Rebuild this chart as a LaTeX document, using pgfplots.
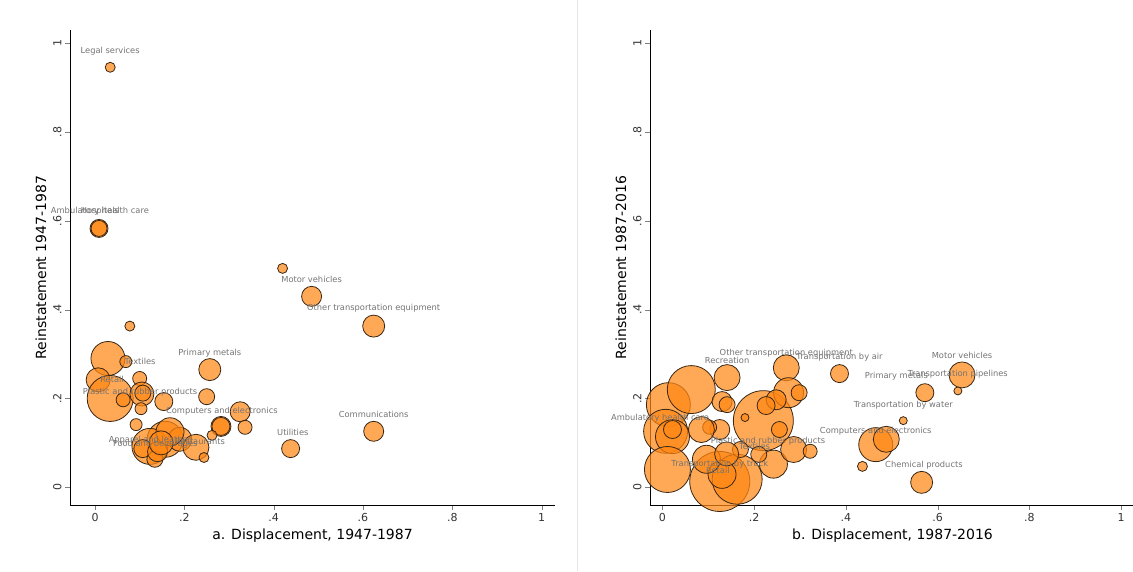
\documentclass[border=0pt]{standalone}
\usepackage{pgfplots}
\pgfplotsset{compat=1.18}
\usepackage{fontspec}
\setmainfont{DejaVu Sans}
\definecolor{bub}{RGB}{255,135,20}
\definecolor{lab}{RGB}{115,115,115}
\tikzset{lb/.style={font=\fontsize{8.3}{9}\selectfont, text=lab, inner sep=0pt}}
\pgfplotsset{
 myax/.style={scale only axis, width=485pt, height=475pt,
  xmin=-0.056, xmax=1.03, ymin=-0.04, ymax=1.03,
  axis x line*=bottom, axis y line*=left,
  xtick={0,0.2,0.4,0.6,0.8,1}, xticklabels={0,.2,.4,.6,.8,1},
  ytick={0,0.2,0.4,0.6,0.8,1}, yticklabels={0,.2,.4,.6,.8,1},
  yticklabel style={rotate=90, anchor=south},
  tick label style={font=\fontsize{11}{12}\selectfont, text=black!80},
  label style={font=\fontsize{14}{16}\selectfont},
  /pgf/number format/assume math mode=true,
  tick align=outside, major tick length=5pt,
  clip=false},
 bub/.style={scatter, only marks, mark=*,
  scatter/use mapped color={draw=black!70!brown, fill=bub, fill opacity=0.72, line width=0.8pt},
  visualization depends on={\thisrow{r} \as \rr},
  scatter/@pre marker code/.append style={/tikz/mark size=\rr}},
 labs/.style={only marks, mark=none, point meta=explicit symbolic,
  nodes near coords, nodes near coords align=center,
  every node near coord/.append style={lb, anchor=center}}
}
\begin{document}
\begin{tikzpicture}
\useasboundingbox (0,0) rectangle (1133pt,571pt);
\draw[black!10] (577pt,0) -- (577pt,571pt);
\begin{axis}[myax, at={(70pt,66pt)}, anchor=south west, xlabel={a. Displacement, 1947-1987}, ylabel={Reinstatement 1947-1987}]
\addplot[bub] table {
x y r
0.034 0.946 5
0.009 0.583 9
0.009 0.583 8
0.420 0.493 5
0.485 0.430 10
0.624 0.363 11
0.078 0.363 5
0.029 0.290 17
0.069 0.283 6
0.257 0.265 11
0.007 0.242 12
0.100 0.245 7
0.034 0.200 23
0.250 0.204 8
0.063 0.197 7
0.105 0.210 12
0.107 0.212 8
0.154 0.193 9
0.325 0.170 10
0.103 0.177 6
0.092 0.141 6
0.624 0.126 10
0.282 0.137 10
0.282 0.137 9
0.336 0.135 7
0.262 0.117 5
0.438 0.087 9
0.157 0.108 18
0.190 0.108 12
0.123 0.092 18
0.107 0.087 9
0.226 0.090 13
0.134 0.063 8
0.140 0.080 10
0.244 0.067 5
0.168 0.125 14
0.148 0.100 12
};
\addplot[labs] table[col sep=comma, meta=t] {
x,y,t
0.034,0.982,Legal services
0.011,0.621,Ambulatory health care
0.011,0.621,Hospitals
0.485,0.468,Motor vehicles
0.624,0.403,Other transportation equipment
0.101,0.283,Textiles
0.257,0.301,Primary metals
0.038,0.244,Retail
0.101,0.213,Plastic and rubber products
0.284,0.172,Computers and electronics
0.624,0.163,Communications
0.443,0.123,Utilities
0.123,0.107,Apparel and leather
0.135,0.098,Food and beverages
0.235,0.103,Restaurants
};
\end{axis}
\begin{axis}[myax, at={(650pt,66pt)}, anchor=south west, xmin=-0.027, xlabel={b. Displacement, 1987-2016}, ylabel={Reinstatement 1987-2016}]
\addplot[bub] table {
x y r
0.653 0.253 13
0.644 0.217 4
0.386 0.256 9
0.270 0.269 13
0.141 0.247 13
0.572 0.213 9
0.525 0.150 4
0.013 0.186 22
0.063 0.220 24
0.130 0.193 10
0.141 0.186 8
0.220 0.150 30
0.275 0.213 15
0.298 0.213 8
0.248 0.197 10
0.180 0.157 4
0.226 0.184 9
0.007 0.126 22
0.022 0.114 17
0.022 0.130 9
0.125 0.130 10
0.103 0.135 7
0.255 0.130 8
0.465 0.096 17
0.488 0.108 13
0.436 0.047 5
0.565 0.011 11
0.011 0.040 23
0.125 0.013 30
0.163 0.018 25
0.130 0.029 14
0.096 0.063 14
0.242 0.052 14
0.286 0.085 13
0.322 0.081 7
0.210 0.074 8
0.170 0.085 8
0.085 0.130 13
0.140 0.075 12
};
\addplot[labs] table[col sep=comma, meta=t] {
x,y,t
0.270,0.303,Other transportation equipment
0.141,0.285,Recreation
0.386,0.294,Transportation by air
0.653,0.296,Motor vehicles
0.510,0.251,Primary metals
0.644,0.255,Transportation pipelines
0.525,0.185,Transportation by water
-0.005,0.156,Ambulatory health care
0.465,0.127,Computers and electronics
0.230,0.103,Plastic and rubber products
0.201,0.091,Textiles
0.570,0.049,Chemical products
0.125,0.051,Transportation by truck
0.121,0.038,Retail
};
\end{axis}
\end{tikzpicture}
\end{document}
